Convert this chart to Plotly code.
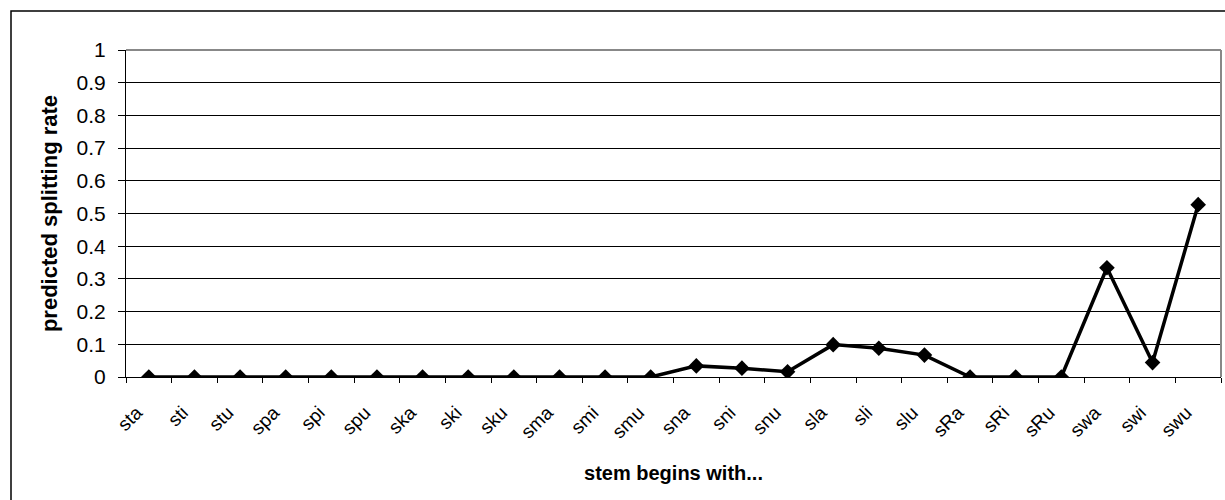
import plotly.graph_objects as go

categories = ["sta", "sti", "stu", "spa", "spi", "spu", "ska", "ski", "sku", "sma", "smi", "smu",
              "sna", "sni", "snu", "sla", "sli", "slu", "sRa", "sRi", "sRu", "swa", "swi", "swu"]
values = [0, 0, 0, 0, 0, 0, 0, 0, 0, 0, 0, 0,
          0.034, 0.027, 0.016, 0.099, 0.088, 0.067, 0, 0, 0, 0.334, 0.044, 0.527]
y_ticks = [0, 0.1, 0.2, 0.3, 0.4, 0.5, 0.6, 0.7, 0.8, 0.9, 1]
y_tick_labels = ["0", "0.1", "0.2", "0.3", "0.4", "0.5", "0.6", "0.7", "0.8", "0.9", "1"]

W, H = 1225, 500
L, R, T, B = 126, 4, 50, 123
pw, ph = W - L - R, H - T - B

def px(x):
    return (x - L) / pw

def py(y):
    return (H - B - y) / ph

fig = go.Figure()
fig.add_trace(go.Scatter(
    x=categories, y=values, mode="lines+markers",
    line=dict(color="black", width=3.5),
    marker=dict(symbol="diamond", size=12, color="black"),
    showlegend=False,
))

font = "Liberation Sans, Arial, sans-serif"
fig.update_layout(
    width=W, height=H,
    margin=dict(l=L, r=R, t=T, b=B, autoexpand=False),
    paper_bgcolor="white", plot_bgcolor="white",
    font=dict(family=font, size=18, color="black"),
    xaxis=dict(
        type="category", tickangle=-45, tickson="boundaries",
        ticks="outside", ticklen=5, tickcolor="black", tickwidth=1,
        showline=True, linecolor="black", linewidth=1,
        showgrid=False, zeroline=False,
        tickfont=dict(family=font, size=19),
        ticklabelstandoff=16, ticklabelshift=-12,
        title=dict(text="<b>stem begins with...</b>", font=dict(family=font, size=20), standoff=24),
        range=[-0.5, len(categories) - 0.5],
        automargin=False,
    ),
    yaxis=dict(
        range=[0, 1], tickvals=y_ticks, ticktext=y_tick_labels,
        ticks="outside", ticklen=7, tickcolor="black", tickwidth=1,
        showline=True, linecolor="black", linewidth=1,
        showgrid=True, gridcolor="black", gridwidth=1, zeroline=False,
        tickfont=dict(family=font, size=21),
        ticklabelstandoff=8,
        title=dict(text="<b>predicted splitting rate</b>", font=dict(family=font, size=22), standoff=12),
        automargin=False,
    ),
    shapes=[
        dict(type="line", xref="paper", yref="paper", x0=0, x1=1, y0=1, y1=1,
             line=dict(color="#888888", width=2)),
        dict(type="line", xref="paper", yref="paper", x0=1, x1=1, y0=0, y1=1,
             line=dict(color="#888888", width=2)),
        dict(type="rect", xref="paper", yref="paper",
             x0=px(11), x1=px(1230), y0=py(11), y1=py(505),
             line=dict(color="black", width=1.5), layer="below"),
    ],
)

fig.write_html("out.html", config={"displayModeBar": False})
with open("out.html", "r", encoding="utf-8") as f:
    html = f.read()
html = html.replace("<head>", "<head><style>html,body{margin:0;padding:0;overflow:hidden;}</style>", 1)
with open("out.html", "w", encoding="utf-8") as f:
    f.write(html)
